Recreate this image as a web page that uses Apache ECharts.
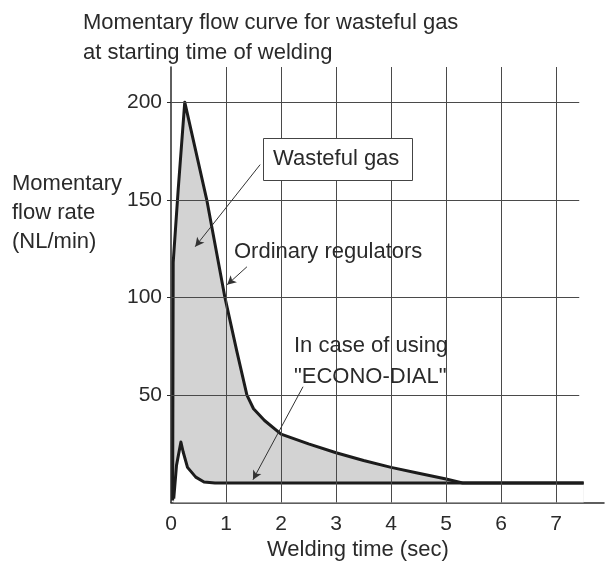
<!DOCTYPE html>
<html>
<head>
<meta charset="utf-8">
<script src="https://cdn.jsdelivr.net/npm/echarts@6/dist/echarts.min.js"></script>
<style>
  html, body { margin: 0; padding: 0; background: #fff; }
  #chart { width: 608px; height: 565px; }
</style>
</head>
<body>
<div id="chart"></div>
<script>
// Momentary flow rate (NL/min) against welding time (sec)
const ordinaryTime = [0.03, 0.04, 0.13, 0.25, 0.65, 0.98, 1.2, 1.38, 1.5, 1.7, 2.0, 2.5, 3.0, 3.5, 4.0, 4.5, 5.0, 5.3, 7.5];
const ordinaryFlow = [-4, 118, 155, 200, 150, 100, 72, 50, 43, 37, 30, 25, 20.5, 16.5, 13, 10, 7, 5, 5];

const econoTime = [0.05, 0.1, 0.18, 0.22, 0.3, 0.45, 0.6, 0.8, 7.5];
const econoFlow = [-3, 14, 26, 21, 13, 8, 5.5, 5, 5];

const xTicks = [0, 1, 2, 3, 4, 5, 6, 7];
const yTicks = [50, 100, 150, 200];

const FONT = '"Liberation Sans", Arial, sans-serif';
const INK = '#2a2a2a';
const GRID = '#4a4a4a';

const pairs = (xs, ys) => xs.map((x, i) => [x, ys[i]]);

const chart = echarts.init(document.getElementById('chart'), null, { renderer: 'canvas' });

const option = {
  backgroundColor: '#fff',
  animation: false,
  grid: { left: 171, right: 4, top: 67, bottom: 62.5, containLabel: false },
  xAxis: {
    type: 'value', min: 0, max: 7.87,
    axisLine: { show: true, onZero: false, lineStyle: { color: INK, width: 1.5 } },
    axisTick: { show: false },
    splitLine: { show: false },
    axisLabel: { customValues: xTicks, fontSize: 21, color: INK, fontFamily: FONT, margin: 11 }
  },
  yAxis: {
    type: 'value', min: -5, max: 218,
    axisLine: { show: true, onZero: false, lineStyle: { color: INK, width: 1.5 } },
    axisTick: { show: true, customValues: yTicks, length: 4, lineStyle: { color: INK } },
    splitLine: { show: false },
    axisLabel: { customValues: yTicks, fontSize: 21, color: INK, fontFamily: FONT, margin: 9 }
  },
  series: [
    { // shaded wasteful-gas region under the ordinary curve
      type: 'line', z: 1, data: pairs(ordinaryTime, ordinaryFlow),
      symbol: 'none', lineStyle: { width: 0 },
      areaStyle: { color: '#d3d3d3', opacity: 1, origin: 'start' }, silent: true
    },
    { // white region below the ECONO-DIAL curve
      type: 'line', z: 2, data: pairs(econoTime, econoFlow),
      symbol: 'none', lineStyle: { width: 0 },
      areaStyle: { color: '#ffffff', opacity: 1, origin: 'start' }, silent: true
    },
    { // grid lines
      type: 'line', z: 3, data: [], silent: true,
      markLine: {
        silent: true, symbol: 'none', animation: false,
        label: { show: false },
        lineStyle: { color: GRID, width: 1, type: 'solid' },
        data: xTicks.slice(1).map(v => ({ xAxis: v }))
          .concat(yTicks.map(v => [{ coord: [0, v] }, { coord: [7.42, v] }]))
      }
    },
    {
      name: 'Ordinary regulators', type: 'line', z: 4,
      data: pairs(ordinaryTime, ordinaryFlow), symbol: 'none',
      lineStyle: { color: '#1c1c1c', width: 3, join: 'round' }
    },
    {
      name: 'ECONO-DIAL', type: 'line', z: 4,
      data: pairs(econoTime, econoFlow), symbol: 'none',
      lineStyle: { color: '#1c1c1c', width: 3, join: 'round' }
    },
    { // leader arrows for the annotations
      type: 'line', z: 5, data: [], silent: true,
      markLine: {
        silent: true, animation: false,
        symbol: ['none', 'arrow'], symbolSize: [7, 9],
        label: { show: false },
        lineStyle: { color: '#333', width: 1, type: 'solid' },
        data: [
          [{ coord: [1.62, 168] }, { coord: [0.44, 126] }],
          [{ coord: [1.38, 115.7] }, { coord: [1.02, 106.5] }],
          [{ coord: [2.4, 54.3] }, { coord: [1.49, 6.7] }]
        ]
      }
    }
  ],
  graphic: [
    { type: 'text', left: 83, top: 12, style: { text: 'Momentary flow curve for wasteful gas', font: '22px ' + FONT, fill: INK } },
    { type: 'text', left: 83, top: 42, style: { text: 'at starting time of welding', font: '22px ' + FONT, fill: INK } },
    { type: 'text', left: 12, top: 169, style: { text: 'Momentary\nflow rate\n(NL/min)', font: '22px ' + FONT, fill: INK, lineHeight: 29 } },
    { type: 'text', left: 267, top: 539, style: { text: 'Welding time (sec)', font: '22px ' + FONT, fill: INK } },
    { type: 'rect', z: 10, shape: { x: 263.5, y: 138.5, width: 149, height: 42 }, style: { fill: '#fff', stroke: '#444', lineWidth: 1 } },
    { type: 'text', z: 11, left: 273, top: 148, style: { text: 'Wasteful gas', font: '22px ' + FONT, fill: INK } },
    { type: 'text', z: 11, left: 234, top: 241, style: { text: 'Ordinary regulators', font: '22px ' + FONT, fill: INK } },
    { type: 'text', z: 11, left: 294, top: 330, style: { text: 'In case of using\n"ECONO-DIAL"', font: '22px ' + FONT, fill: INK, lineHeight: 31 } }
  ]
};

chart.setOption(option);
</script>
</body>
</html>
